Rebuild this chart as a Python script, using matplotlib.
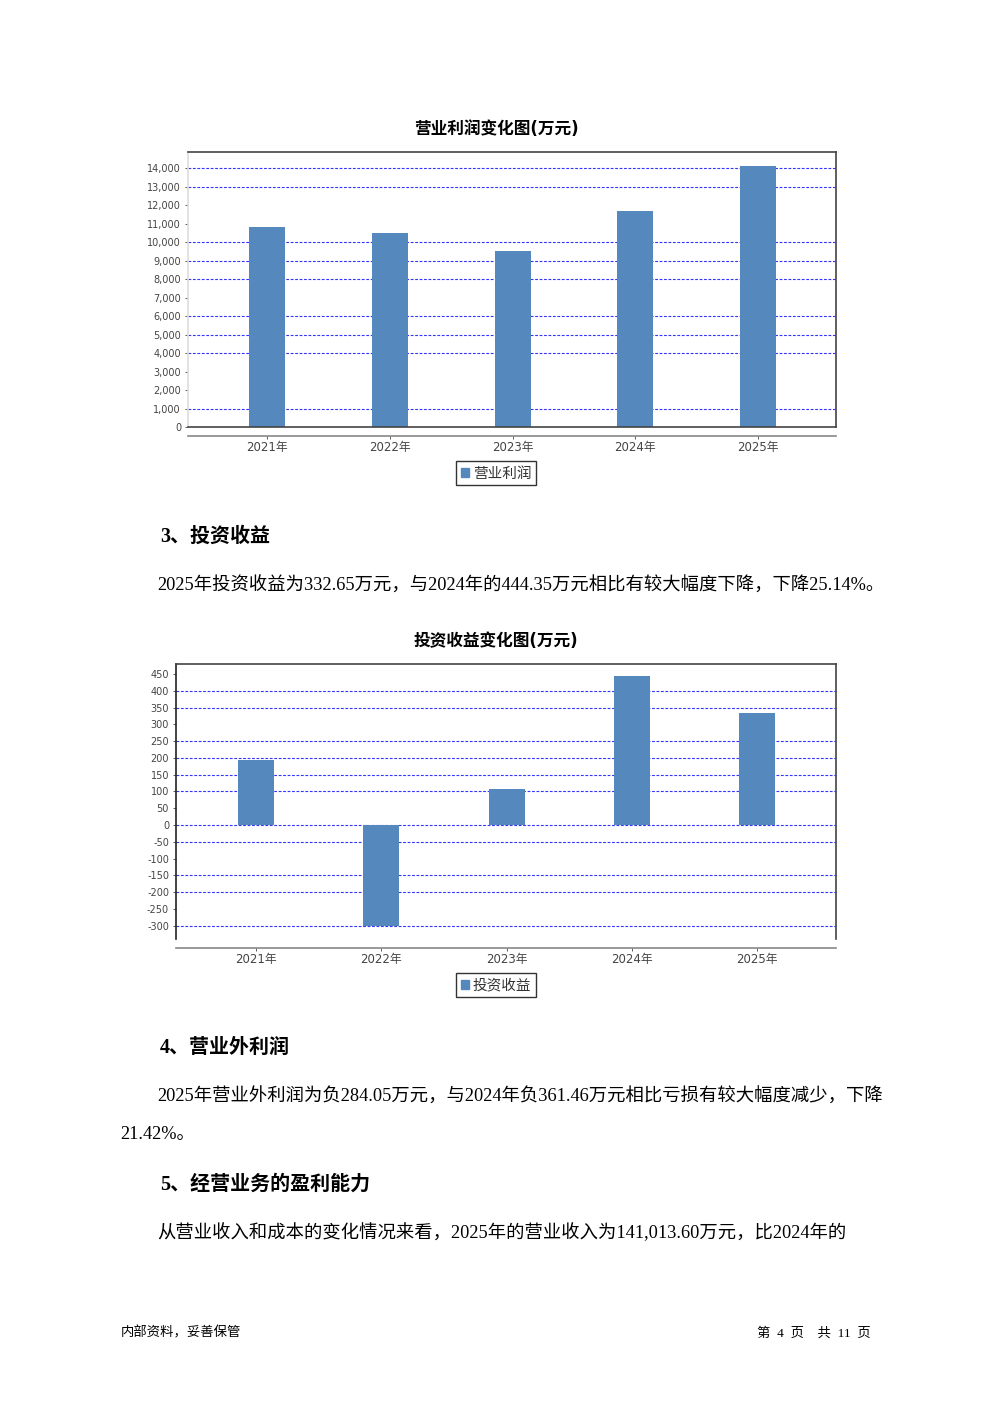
import matplotlib
matplotlib.use('Agg')
import matplotlib.pyplot as plt
from matplotlib.ticker import FuncFormatter, MultipleLocator
from matplotlib.patches import Patch

plt.rcParams['font.family'] = ['DejaVu Sans', 'Noto Sans CJK SC']

# ===================== 数据 =====================
years = ['2021年', '2022年', '2023年', '2024年', '2025年']
op_profit = [10810, 10490, 9510, 11680, 14110]
invest_income = [194, -300, 108, 444.35, 332.65]

# 截图里实际显示出来的网格线
op_grid = [1000, 4000, 5000, 6000, 8000, 9000, 10000, 13000, 14000]
inv_grid = [-300, -200, -150, -50, 0, 100, 150, 200, 250, 350, 400]

BAR_COLOR = '#5589bd'
GRID_COLOR = '#3333ff'
SERIF = ['Liberation Serif', 'Noto Sans CJK SC']
CJK = ['DejaVu Sans', 'Noto Sans CJK SC']

W, H = 992, 1403
fig = plt.figure(figsize=(W / 100, H / 100), dpi=100)


def fx(px):
    return px / W


def fy(py):
    return 1 - py / H


def draw_bar_chart(rect, values, grid_vals, ylim, step, xlim, width, title, title_y,
                   legend_label, legend_y, left_spine_color):
    ax = fig.add_axes(rect)
    x = list(range(len(years)))
    ax.bar(x, values, width=width, color=BAR_COLOR, zorder=3)
    for g in grid_vals:
        ax.axhline(g, color=GRID_COLOR, lw=0.8, ls=(0, (2.5, 1.5)), zorder=1)
    ax.set_xlim(*xlim)
    ax.set_ylim(*ylim)
    ax.yaxis.set_major_locator(MultipleLocator(step))
    ax.yaxis.set_major_formatter(FuncFormatter(lambda v, p: f'{int(round(v)):,}'))
    ax.set_xticks(x)
    ax.set_xticklabels(years)
    ax.tick_params(axis='y', labelsize=7, colors='#444444', length=2, width=0.6,
                   pad=3)
    ax.tick_params(axis='x', labelsize=8.5, colors='#444444', length=2, width=0.6,
                   pad=1.5)
    for s in ['top', 'right']:
        ax.spines[s].set_color('#444444')
        ax.spines[s].set_linewidth(1.2)
    ax.spines['left'].set_color(left_spine_color)
    ax.spines['left'].set_linewidth(1.2)
    ax.spines['bottom'].set_position(('outward', 6.5))
    ax.spines['bottom'].set_color('#888888')
    ax.spines['bottom'].set_linewidth(1.2)
    fig.text(0.5, fy(title_y), title, ha='center', va='center', fontsize=12,
             fontweight='bold', family=CJK)
    ax.legend(handles=[Patch(color=BAR_COLOR, label=legend_label)],
              loc='center', bbox_to_anchor=(fx(496), fy(legend_y)),
              bbox_transform=fig.transFigure, fontsize=10.5, frameon=True,
              fancybox=False, edgecolor='black', handlelength=0.55,
              handleheight=0.55, handletextpad=0.3, borderpad=0.3,
              borderaxespad=0, labelcolor='#333333')
    ax.get_legend().get_frame().set_linewidth(1.0)
    return ax


# ===== 图1：营业利润 =====
ax1 = draw_bar_chart([fx(188), fy(427), fx(836 - 188), (427 - 152) / H],
                     op_profit, op_grid, (0, 14870), 1000, (-0.644, 4.635), 0.293,
                     '营业利润变化图(万元)', 129, '营业利润', 473, '#dddddd')
ax1.axhline(0, color='#444444', lw=1.2, zorder=4, clip_on=False)

# ===== 图2：投资收益 =====
ax2 = draw_bar_chart([fx(176), fy(939), fx(836 - 176), (939 - 664) / H],
                     invest_income, inv_grid, (-340, 480), 50, (-0.639, 4.63), 0.287,
                     '投资收益变化图(万元)', 641, '投资收益', 985, '#222222')

# ===== 正文 =====
def heading(px, py, s):
    fig.text(fx(px), fy(py), s, ha='left', va='center', fontsize=14.4,
             fontweight='bold', family=SERIF)


def body(px, py, s):
    fig.text(fx(px), fy(py), s, ha='left', va='center', fontsize=13.2, family=SERIF)


heading(160, 537, '3、投资收益')
body(157, 586, '2025年投资收益为332.65万元，与2024年的444.35万元相比有较大幅度下降，下降25.14%。')
heading(160, 1048, '4、营业外利润')
body(157, 1097, '2025年营业外利润为负284.05万元，与2024年负361.46万元相比亏损有较大幅度减少，下降')
body(120, 1135, '21.42%。')
heading(160, 1185, '5、经营业务的盈利能力')
body(157, 1233, '从营业收入和成本的变化情况来看，2025年的营业收入为141,013.60万元，比2024年的')

# ===== 页脚 =====
fig.text(fx(121), fy(1333), '内部资料，妥善保管', ha='left', va='center',
         fontsize=9.6, family=SERIF)
fig.text(fx(871), fy(1333), '第  4  页    共  11  页', ha='right', va='center',
         fontsize=9.6, family=SERIF)

fig.savefig('out.png', dpi=100, facecolor='white')
